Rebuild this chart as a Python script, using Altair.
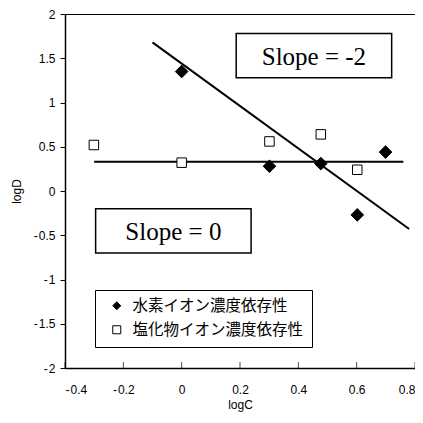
import altair as alt
import pandas as pd

# --- data ---
h_label = "水素イオン濃度依存性"
c_label = "塩化物イオン濃度依存性"
h_x = [0.0, 0.301, 0.477, 0.602, 0.699]
h_y = [1.35, 0.28, 0.31, -0.27, 0.44]
c_x = [-0.301, 0.0, 0.301, 0.477, 0.602]
c_y = [0.52, 0.32, 0.56, 0.64, 0.24]

slope_line_x = [-0.10, 0.78]
slope_line_y = [1.68, -0.43]
flat_line_x = [-0.30, 0.76]
flat_line_y = [0.33, 0.33]

x_ticks = [-0.4, -0.2, 0, 0.2, 0.4, 0.6, 0.8]
y_ticks = [-2, -1.5, -1, -0.5, 0, 0.5, 1, 1.5, 2]

box_text = ["Slope = -2", "Slope = 0"]
box_x1 = [0.187, -0.295]
box_x2 = [0.720, 0.238]
box_y1 = [1.78, -0.20]
box_y2 = [1.28, -0.70]

pts = pd.DataFrame({
    "logC": h_x + c_x,
    "logD": h_y + c_y,
    "series": [h_label] * len(h_x) + [c_label] * len(c_x),
})
lines = pd.DataFrame({
    "logC": slope_line_x + flat_line_x,
    "logD": slope_line_y + flat_line_y,
    "line": ["a", "a", "b", "b"],
})
boxes = pd.DataFrame({
    "text": box_text, "x1": box_x1, "x2": box_x2, "y1": box_y1, "y2": box_y2,
    "xm": [(a + b) / 2 for a, b in zip(box_x1, box_x2)],
    "ym": [(a + b) / 2 for a, b in zip(box_y1, box_y2)],
})
ticks = pd.DataFrame({"t": x_ticks, "y": [-2] * len(x_ticks)})

xs = alt.Scale(domain=[-0.4, 0.8], nice=False, zero=False)
ys = alt.Scale(domain=[-2, 2], nice=False, zero=False)

lbl = "datum.value < 0 ? '-\u200a' + format(-datum.value, '~g') : format(datum.value, '~g')"

xaxis = alt.Axis(values=x_ticks, title="logC", grid=False, tickSize=0, labelExpr=lbl,
                 labelPadding=16, titlePadding=4, domainWidth=1.5, domainColor="black")
yaxis = alt.Axis(values=y_ticks, title="logD", grid=False, tickSize=5, tickColor="black", labelExpr=lbl,
                 labelPadding=5, titlePadding=10, domainWidth=1.5, domainColor="black")

line_layer = alt.Chart(lines).mark_line(color="black", strokeWidth=2).encode(
    x=alt.X("logC:Q", scale=xs, axis=xaxis),
    y=alt.Y("logD:Q", scale=ys, axis=yaxis),
    detail="line:N",
)

box_layer = alt.Chart(boxes).mark_rect(fill="white", stroke="black", strokeWidth=1.5).encode(
    x=alt.X("x1:Q", scale=xs), x2="x2:Q",
    y=alt.Y("y1:Q", scale=ys), y2="y2:Q",
)
box_text_layer = alt.Chart(boxes).mark_text(font="Liberation Serif", fontSize=25, color="black",
                                            baseline="middle", align="center", dy=1).encode(
    x=alt.X("xm:Q", scale=xs), y=alt.Y("ym:Q", scale=ys), text="text:N",
)

leg = alt.Legend(title=None, orient="none", legendX=30, legendY=276)
dom = [h_label, c_label]
shape_enc = alt.Shape("series:N", scale=alt.Scale(domain=dom, range=["diamond", "square"]), legend=leg)
fill_enc = alt.Fill("series:N", scale=alt.Scale(domain=dom, range=["black", "white"]), legend=leg)
stroke_enc = alt.Stroke("series:N", scale=alt.Scale(domain=dom, range=["black", "black"]), legend=leg)

base_pts = alt.Chart(pts)
h_layer = base_pts.transform_filter(alt.datum.series == h_label).mark_point(
    strokeWidth=1, opacity=1, size=160).encode(
    x=alt.X("logC:Q", scale=xs), y=alt.Y("logD:Q", scale=ys),
    shape=shape_enc, fill=fill_enc, stroke=stroke_enc)
c_layer = base_pts.transform_filter(alt.datum.series == c_label).mark_point(
    strokeWidth=1, opacity=1, size=90).encode(
    x=alt.X("logC:Q", scale=xs), y=alt.Y("logD:Q", scale=ys),
    shape=shape_enc, fill=fill_enc, stroke=stroke_enc)

tick_layer = alt.Chart(ticks).mark_tick(color="black", thickness=1, size=6, orient="vertical", yOffset=-3).encode(
    x=alt.X("t:Q", scale=xs), y=alt.Y("y:Q", scale=ys),
)

chart = alt.layer(line_layer, box_layer, box_text_layer, tick_layer, h_layer, c_layer).properties(
    width=350, height=354,
    autosize=alt.AutoSizeParams(type="none"),
    padding={"left": 57, "top": 6, "right": 0, "bottom": 55},
).configure_view(stroke="black", strokeWidth=1).configure_axis(
    labelFont="Liberation Sans", labelFontSize=12, labelColor="black",
    titleFont="Liberation Sans", titleFontSize=12, titleFontWeight="normal", titleColor="black",
).configure_legend(
    labelFont="Noto Sans CJK JP", labelFontSize=15.5, labelColor="black", labelLimit=400,
    strokeColor="black", fillColor="white", padding=8, symbolSize=64, symbolOffset=6,
    symbolStrokeWidth=1, rowPadding=7, labelOffset=8,
)

chart.save("out.html", embed_options={"renderer": "svg", "actions": False})
